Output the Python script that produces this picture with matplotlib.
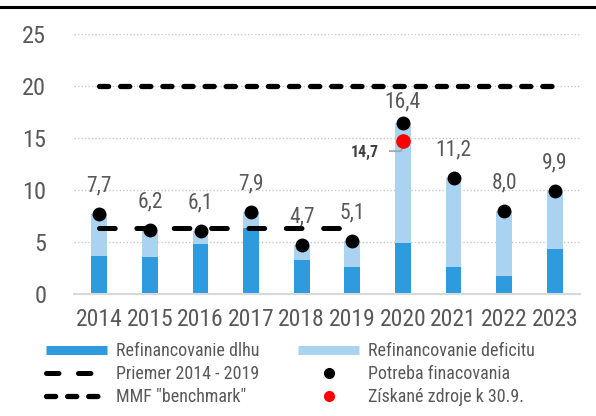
import matplotlib
matplotlib.use("Agg")
import matplotlib.pyplot as plt
from matplotlib.lines import Line2D
import numpy as np

plt.rcParams['font.family'] = ['Roboto Condensed', 'DejaVu Sans']
plt.rcParams['lines.scale_dashes'] = False

years = ['2014', '2015', '2016', '2017', '2018', '2019', '2020', '2021', '2022', '2023']
debt_refin = [3.7, 3.6, 4.8, 6.35, 3.25, 2.6, 4.95, 2.6, 1.7, 4.3]
total_need = [7.7, 6.2, 6.1, 7.9, 4.7, 5.1, 16.4, 11.2, 8.0, 9.9]
deficit_refin = [t - d for t, d in zip(total_need, debt_refin)]
avg_years = ['2014', '2015', '2016', '2017', '2018', '2019']
avg_value = 6.3
bench_value = 20.0
obtained_year = '2020'
obtained_value = 14.7
need_labels = ['7,7', '6,2', '6,1', '7,9', '4,7', '5,1', '16,4', '11,2', '8,0', '9,9']
obtained_label = '14,7'

c_dark = '#2E9BDE'
c_light = '#AAD3F1'
c_text = '#595959'

fig = plt.figure(figsize=(5.96, 4.16), dpi=100)
ax = fig.add_axes([74/596, 1-294/416, 506/596, 260/416])

x = np.arange(len(years))
bw = 0.31
ax.bar(x, debt_refin, width=bw, color=c_dark, zorder=2)
ax.bar(x, deficit_refin, width=bw, bottom=debt_refin, color=c_light, zorder=2)

xa = np.array([years.index(y) for y in avg_years])
ax.plot(xa, [avg_value]*len(xa), color='black', lw=3.6, dashes=(11.3, 15.6),
        dash_capstyle='round', zorder=3)
ax.plot([0, len(years)-1], [bench_value]*2, color='black', lw=3.8, dashes=(6.6, 8.6),
        dash_capstyle='round', zorder=3)

ax.plot(x, total_need, 'o', color='black', ms=9, zorder=5)
xo = years.index(obtained_year)
ax.plot([xo], [obtained_value], 'o', color='#FF0000', ms=9.5, zorder=6)

offsets = [20, 20, 20, 20, 20, 20, 15.5, 20, 20, 20]
for xi, v, lab, off in zip(x, total_need, need_labels, offsets):
    ax.annotate(lab, (xi, v), xytext=(0, off), textcoords='offset points',
                ha='center', va='center', fontsize=15.5, color=c_text, zorder=7)

ax.set_xlim(-0.5, len(years)-0.5)
ax.set_ylim(0, 25)
ax.set_yticks([0, 5, 10, 15, 20, 25])
ax.set_xticks(x)
ax.set_xticklabels(years)

# label for obtained resources with leader line (pixel offsets from the red dot)
ax.annotate(obtained_label, (xo, obtained_value), xytext=(-17, -8), textcoords='offset points',
            ha='right', va='center', fontsize=11.5, fontweight='bold', color='#404040', zorder=7)
p_lab = ax.transData.transform((xo, obtained_value))
inv = ax.transData.inverted()
def dpx(dx, dy):
    return inv.transform((p_lab[0] + dx, p_lab[1] + dy))
pts = [dpx(-13, -10), dpx(-2, -10), dpx(1, -4)]
ax.plot([p[0] for p in pts], [p[1] for p in pts], color='#A6A6A6', lw=1.3, zorder=5.5)

ax.yaxis.grid(True, color='#C8C8C8', linestyle=(0, (1, 1.5)), lw=1.0, zorder=0)
ax.set_axisbelow(True)
for s in ['top', 'right', 'left']:
    ax.spines[s].set_visible(False)
ax.spines['bottom'].set_color('#D9D9D9')
ax.spines['bottom'].set_linewidth(1.5)
ax.tick_params(axis='y', length=0, pad=20, labelsize=17.5, labelcolor=c_text)
ax.tick_params(axis='x', length=0, pad=10, labelsize=17, labelcolor=c_text)

h_dlh = Line2D([], [], color=c_dark, lw=6.5, solid_capstyle='butt')
h_def = Line2D([], [], color=c_light, lw=6.5, solid_capstyle='butt')
h_avg = Line2D([], [], color='black', lw=3.6, dashes=(9, 14), dash_capstyle='round')
h_ben = Line2D([], [], color='black', lw=3.8, dashes=(6.6, 8.6), dash_capstyle='round')
h_need = Line2D([], [], color='black', marker='o', ls='none', ms=7)
h_obt = Line2D([], [], color='#FF0000', marker='o', ls='none', ms=7)

common = dict(frameon=False, fontsize=13, handlelength=3.4, handletextpad=0.45,
              labelspacing=0.28, borderpad=0, borderaxespad=0, labelcolor=c_text)
leg1 = fig.legend([h_dlh, h_avg, h_ben], ['Refinancovanie dlhu', 'Priemer 2014 - 2019', 'MMF "benchmark"'],
                  loc='center left', bbox_to_anchor=(46/596, 1-374/416), **common)
leg2 = fig.legend([h_def, h_need, h_obt], ['Refinancovanie deficitu', 'Potreba finacovania', 'Získané zdroje k 30.9.'],
                  loc='center left', bbox_to_anchor=(298/596, 1-374/416), **common)

fig.add_artist(Line2D([0, 1], [1-7/416, 1-7/416], color='black', lw=2.2, transform=fig.transFigure))

fig.savefig('out.png', dpi=100)
